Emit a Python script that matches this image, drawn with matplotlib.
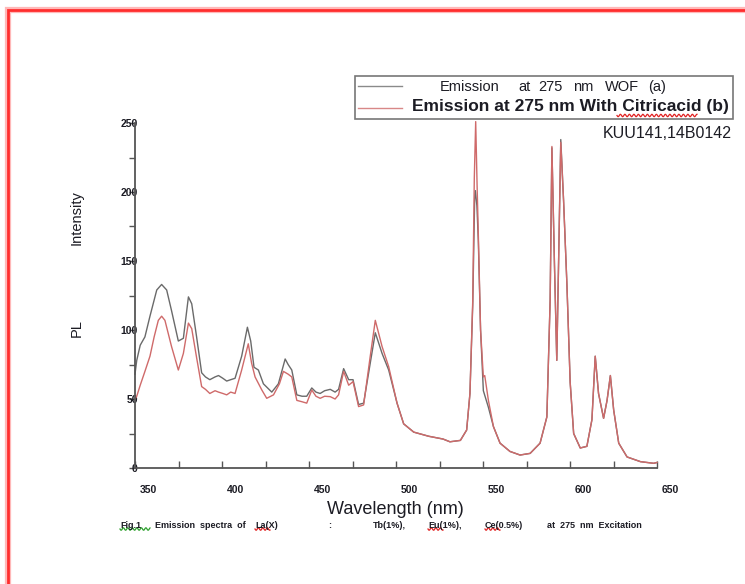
import numpy as np
import matplotlib.pyplot as plt
from matplotlib.lines import Line2D
from matplotlib.patches import Rectangle
from matplotlib.ticker import MultipleLocator
import matplotlib.transforms as mtransforms

plt.rcParams['font.family'] = ['Liberation Sans', 'DejaVu Sans']

# PL emission under 275 nm excitation, without additive (a)
wl_a = [350, 351, 353, 355.7, 358.6, 362.5, 365.3, 368.2, 371, 374.9, 377.8,
        380.7, 382.6, 385.4, 388.3, 390.5, 393, 396, 398, 400.5, 402.7, 405,
        407.5, 411.3, 414.6, 416.5, 418.4, 420.9, 423.8, 428.6, 432.4, 436.3,
        438, 440.1, 443, 446, 448.7, 451.6, 454, 456.4, 459, 462.2, 465, 467,
        469.9, 472.8, 475.3, 478.5, 481.4, 485.2, 488.1, 492, 495.8, 500.6,
        504.4, 510.2, 518.8, 527, 531, 537, 540.6, 542.5, 544.1, 545.2, 545.6,
        546.5, 547.3, 548.6, 550.2, 553.1, 556, 559.8, 565.5, 571.3, 577.1,
        582.8, 586.7, 588.6, 589.6, 591.1, 592.4, 593.4, 594.7, 596.3, 598.2,
        600.1, 602.1, 605.9, 609.7, 612.6, 614.5, 616.4, 619.3, 621.3, 623.2,
        625.1, 628, 632.8, 640.5, 648.1, 650]
pl_a = [68, 78, 89, 95, 110, 129, 133, 129, 114, 92, 94,
        124, 119, 95, 69, 66, 64, 66, 67, 65, 63, 64,
        65, 81, 102, 92, 73, 71, 61, 55, 61, 79,
        75, 71, 53, 52, 52, 58, 55, 54, 56, 57, 55, 57,
        72, 64, 64, 46, 47, 76, 98, 83, 71, 47,
        32, 26, 23, 21, 19, 20, 27.5, 54, 118, 195, 201,
        190, 165, 100, 56, 44, 30, 18, 12, 9.4, 10.6,
        18, 37, 122, 232, 146, 78, 146, 238, 194, 134,
        62, 25, 14.5, 15.7, 35, 81, 54, 36, 49, 67,
        42, 18, 8, 4.6, 3.4, 4]

# PL emission under 275 nm excitation, with citric acid (b)
wl_b = [350, 351, 353, 355.7, 358.6, 361, 363.4, 365.3, 367.2, 371, 374.9,
        377.8, 380.7, 382.6, 385.4, 388.3, 390.5, 393, 396, 398, 400.5, 402.7,
        405, 407.5, 411.3, 415.1, 417, 419, 422.9, 425.7, 429.6, 433, 435.3,
        438, 440.1, 443, 446, 448.7, 451.6, 454, 456.4, 459, 462.2, 465, 467,
        469.9, 472.8, 475.3, 478.5, 481.4, 485.2, 488.1, 492, 495.8, 500.6,
        504.4, 510.2, 518.8, 527, 531, 537, 540.6, 542.5, 544.1, 545, 545.8,
        546.6, 547.3, 548.6, 550.2, 551, 553.1, 556, 559.8, 565.5, 571.3,
        577.1, 582.8, 586.7, 588.6, 589.6, 591.1, 592.4, 593.4, 594.7, 596.3,
        598.2, 600.1, 602.1, 605.9, 609.7, 612.6, 614.5, 616.4, 619.3, 621.3,
        623.2, 625.1, 628, 632.8, 640.5, 648.1, 650]
pl_b = [50, 52, 60, 70, 81, 95, 107, 110, 107, 88, 71,
        83, 105, 101, 80, 59, 57, 54, 56, 55, 54, 53,
        55, 54, 71, 90, 76, 66, 56.5, 50.5, 53, 61, 70,
        68, 66, 49, 48, 47, 56.5, 52, 50.5, 52, 51.7, 50, 53,
        70, 60, 62.6, 44.5, 45.7, 81, 107, 88, 73.4, 47,
        32, 26, 23, 21, 19, 20, 27.5, 54, 121, 210, 251,
        205, 170, 100, 66, 67, 49, 30, 18, 12, 9.4,
        10.6, 18, 37, 122, 233, 146, 78, 146, 236, 194,
        134, 62, 25, 14.5, 15.7, 35, 81, 54, 36, 49,
        67, 42, 18, 8, 4.6, 3.4, 4]

x_ticks = [350, 400, 450, 500, 550, 600, 650]
y_ticks = [0, 50, 100, 150, 200, 250]

W, H = 745, 584
GRAY = '#6a6a6a'
RED = '#cf6a6a'
TEXT = '#1c1c24'

fig = plt.figure(figsize=(W / 100, H / 100), dpi=100)


def fx(x):
    return x / W


def fy(y):
    return 1 - y / H


def squiggle(x0, x1, y, color):
    # spell-check style wavy underline, given in pixel coordinates
    xs = np.linspace(x0, x1, int((x1 - x0) * 4))
    ys = y + 1.2 * np.sin((xs - x0) * 2 * np.pi / 4.5)
    fig.add_artist(Line2D(xs / W, 1 - ys / H, color=color, lw=0.9))


# red page frame
for lw, col in [(4.5, '#ffb8b8'), (2.0, '#ff2e2e')]:
    fig.add_artist(Line2D([fx(8), fx(8), fx(W + 5)], [fy(H + 5), fy(10), fy(10)],
                          color=col, lw=lw, solid_joinstyle='miter'))

ax = fig.add_axes([fx(135), fy(468), (657 - 135) / W, (468 - 123) / H])
ax.plot(wl_a, pl_a, color=GRAY, lw=1.0, clip_on=False)
ax.plot(wl_b, pl_b, color=RED, lw=1.0, clip_on=False)

ax.set_xlim(350, 650)
ax.set_ylim(0, 250)
for side in ['top', 'right']:
    ax.spines[side].set_visible(False)
for side in ['left', 'bottom']:
    ax.spines[side].set_color('#555555')
    ax.spines[side].set_linewidth(1.3)

ax.set_xticks(x_ticks)
ax.set_yticks(y_ticks)
ax.xaxis.set_minor_locator(MultipleLocator(25))
ax.yaxis.set_minor_locator(MultipleLocator(25))
ax.tick_params(axis='x', which='both', direction='in', length=5, width=1,
               color='#555555', labelsize=7.5, pad=12, labelcolor=TEXT)
ax.tick_params(axis='y', which='both', direction='out', length=4, width=1,
               color='#555555', labelsize=7.5, pad=-6, labelcolor=TEXT)

shift = mtransforms.ScaledTranslation(13 / 100, 0, fig.dpi_scale_trans)
for lbl in ax.get_xticklabels():
    lbl.set_transform(lbl.get_transform() + shift)
    lbl.set_fontweight('bold')
for lbl in ax.get_yticklabels():
    lbl.set_fontweight('bold')

fig.text(fx(77), fy(218), 'Intensity', rotation=90, ha='center', va='center',
         fontsize=10.5, color=TEXT)
fig.text(fx(77), fy(328), 'PL', rotation=90, ha='center', va='center',
         fontsize=10.5, color=TEXT)
fig.text(fx(395), fy(510), 'Wavelength (nm)', ha='center', va='center',
         fontsize=13, color=TEXT)

# legend box
fig.add_artist(Rectangle((fx(355), fy(119)), (733 - 355) / W, (119 - 76) / H,
                         transform=fig.transFigure, fill=False,
                         edgecolor='#777777', lw=1.2))
fig.add_artist(Line2D([fx(358), fx(402)], [fy(86), fy(86)], color='#8a8a8a', lw=1.0))
fig.add_artist(Line2D([fx(358), fx(402)], [fy(108), fy(108)], color='#d88888', lw=1.0))
for word, x in [('Emission', 440), ('at', 518), ('275', 538), ('nm', 573),
                ('WOF', 605), ('(a)', 648)]:
    fig.text(fx(x), fy(87), word, ha='left', va='center', fontsize=10.5, color=TEXT)
fig.text(fx(412), fy(107), 'Emission at 275 nm With Citricacid (b)', ha='left',
         va='center', fontsize=12.5, fontweight='bold', color=TEXT)
squiggle(617, 697, 115.5, '#e02020')

fig.text(fx(732), fy(133), 'KUU141,14B0142', ha='right', va='center',
         fontsize=11.5, color=TEXT)

# figure caption
cap_y = fy(525)
for word, x in [('Fig.1', 120), ('Emission  spectra  of', 155), ('La(X)', 255),
                (':', 328), ('Tb(1%),', 373), ('Eu(1%),', 428), ('Ce(0.5%)', 485),
                ('at  275  nm  Excitation', 547)]:
    fig.text(fx(x), cap_y, word, ha='left', va='center', fontsize=6.5,
             fontweight='bold', color=TEXT)
squiggle(120, 150, 529, '#2ca02c')
squiggle(255, 270, 529, '#e02020')
squiggle(428, 443, 529, '#e02020')
squiggle(485, 500, 529, '#e02020')

fig.savefig('out.png', dpi=100)
